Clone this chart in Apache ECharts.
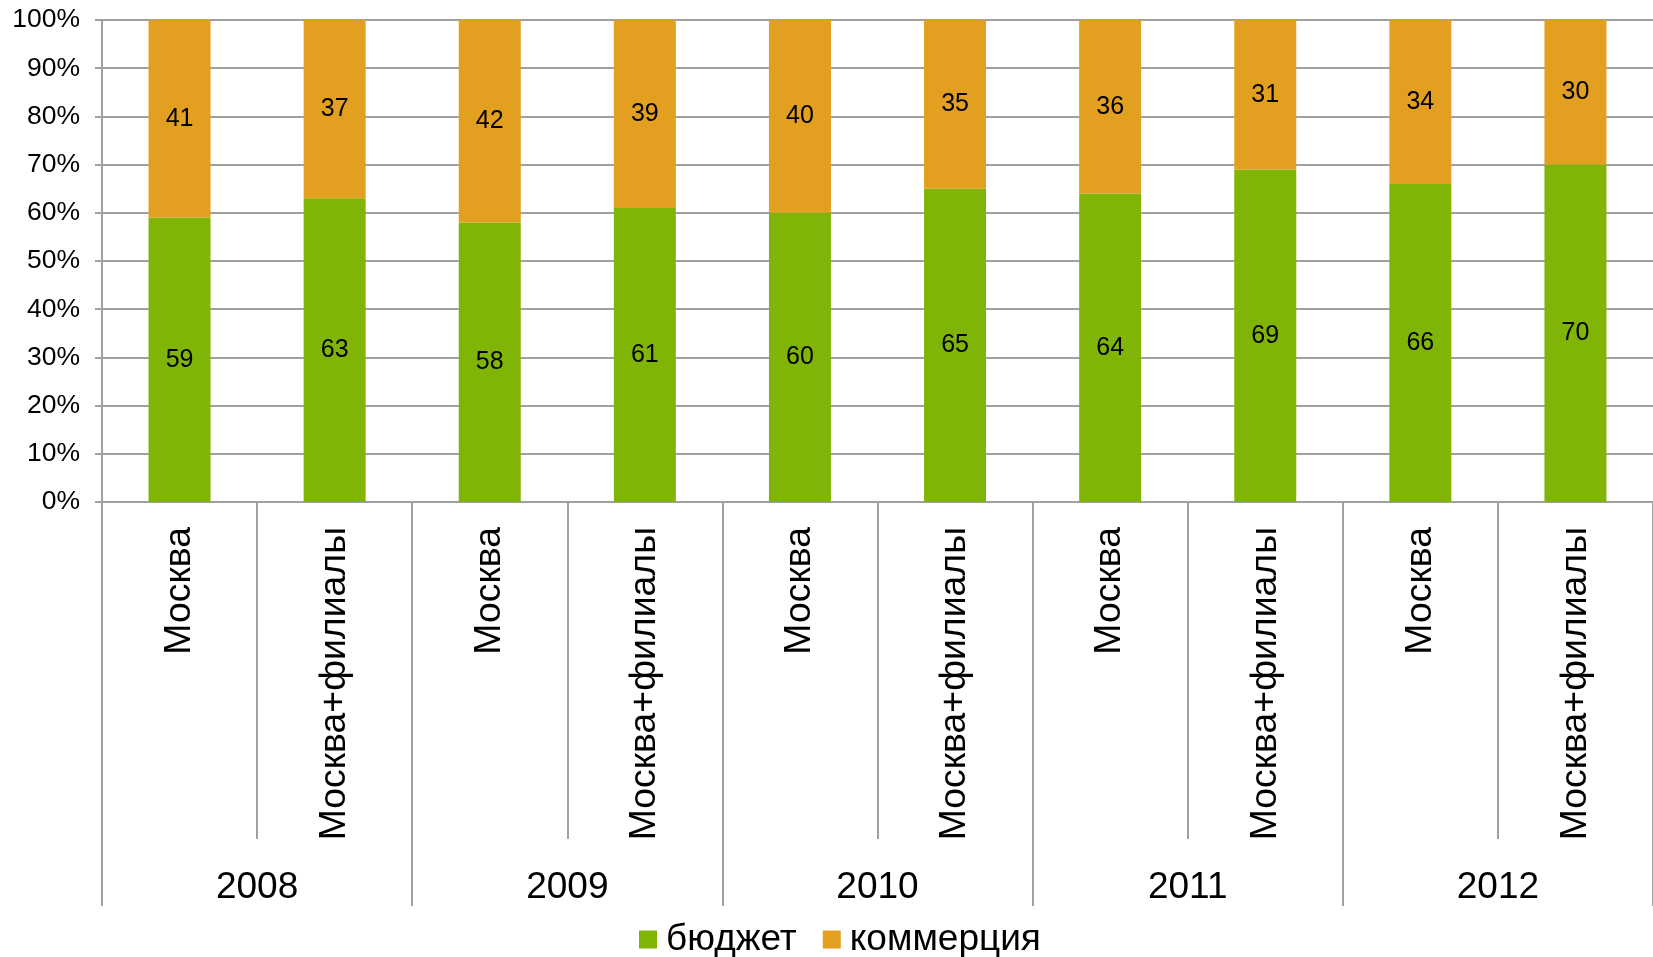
<!DOCTYPE html>
<html><head><meta charset="utf-8">
<script src="https://cdn.jsdelivr.net/npm/echarts@6/dist/echarts.min.js"></script>
<style>html,body{margin:0;padding:0;background:#fff}#c{width:1653px;height:957px}</style>
</head><body><div id="c"></div>
<script>
const categories = ['Москва','Москва+филиалы','Москва','Москва+филиалы','Москва','Москва+филиалы','Москва','Москва+филиалы','Москва','Москва+филиалы'];
const years = ['2008','2009','2010','2011','2012'];
const budget = [59,63,58,61,60,65,64,69,66,70];
const commerce = [41,37,42,39,40,35,36,31,34,30];
const yTicks = {min:0, max:100, interval:10};

const font = 'Liberation Sans, Arial, sans-serif';
const gray = '#a0a0a0';
const chart = echarts.init(document.getElementById('c'), null, {renderer:'canvas'});
chart.setOption({
  animation:false,
  textStyle:{fontFamily:font},
  grid:{left:102, right:0, top:20, bottom:455, containLabel:false},
  legend:{
    top:916, left:634, itemWidth:18, itemHeight:18, itemGap:26,
    icon:'rect',
    textStyle:{fontSize:37, color:'#000', fontFamily:font, padding:[0,0,0,4]},
    data:['бюджет','коммерция']
  },
  xAxis:[{
    type:'category', data:categories, position:'bottom',
    axisLine:{show:true, lineStyle:{color:gray, width:2}},
    axisTick:{show:true, interval:0, length:337, lineStyle:{color:gray, width:2}},
    axisLabel:{interval:0, rotate:90, margin:25, fontSize:37.4, color:'#000', fontFamily:font}
  },{
    type:'category', data:years, position:'bottom', offset:0,
    axisLine:{show:false},
    axisTick:{show:true, interval:0, length:404, lineStyle:{color:gray, width:2}},
    axisLabel:{interval:0, margin:367, fontSize:37, color:'#000', fontFamily:font},
    splitLine:{show:false}
  }],
  yAxis:{
    type:'value', min:yTicks.min, max:yTicks.max, interval:yTicks.interval,
    axisLine:{show:true, lineStyle:{color:gray, width:2}},
    axisTick:{show:true, length:7, lineStyle:{color:gray, width:2}},
    axisLabel:{formatter:'{value}%', fontSize:26.5, color:'#000', margin:22, fontFamily:font},
    splitLine:{show:true, lineStyle:{color:gray, width:2}}
  },
  series:[{
    name:'бюджет', type:'bar', stack:'s', data:budget, barWidth:62, xAxisIndex:0,
    itemStyle:{color:'#80B507'},
    label:{show:true, position:'inside', color:'#000', fontSize:25, fontFamily:font}
  },{
    name:'коммерция', type:'bar', stack:'s', data:commerce, barWidth:62, xAxisIndex:0,
    itemStyle:{color:'#E39F1F'},
    label:{show:true, position:'inside', color:'#000', fontSize:25, fontFamily:font}
  }]
});
</script></body></html>
